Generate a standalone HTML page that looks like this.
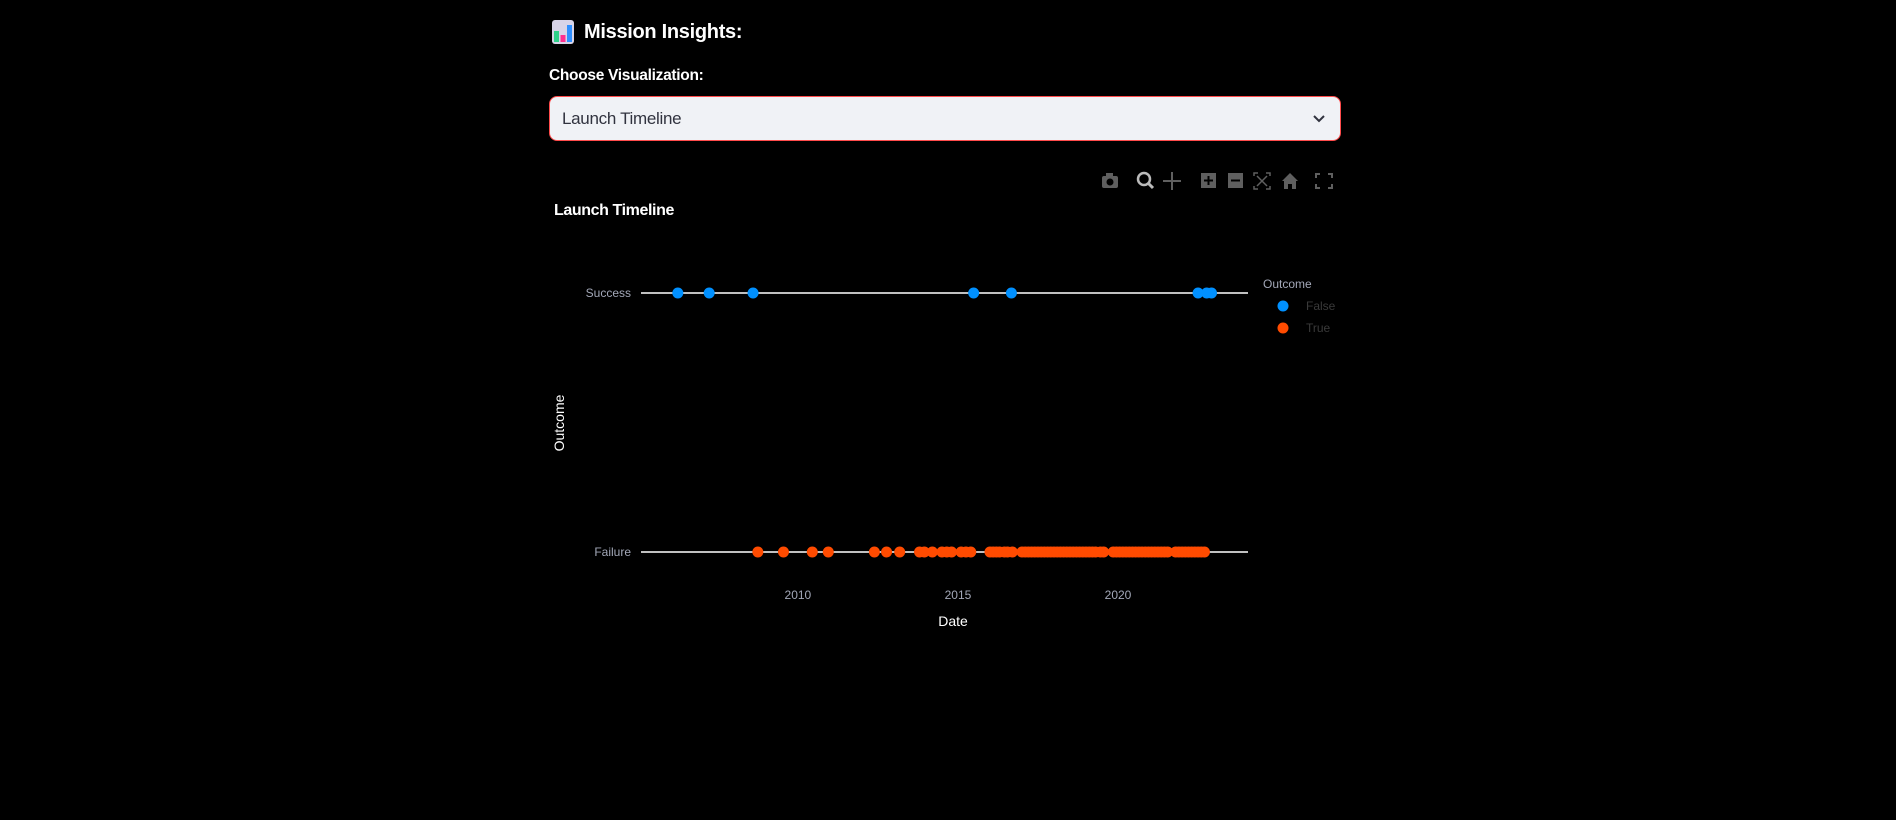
<!DOCTYPE html>
<html><head><meta charset="utf-8">
<style>
html,body{margin:0;padding:0;background:#000;width:1896px;height:820px;overflow:hidden;font-family:"Liberation Sans",sans-serif;}
.abs{position:absolute;}
</style></head>
<body>
<div class="abs" style="left:551px;top:17px;height:30px;display:flex;align-items:center;">
  <svg width="24" height="26" viewBox="0 0 24 26"><rect x="1" y="1" width="22" height="24" rx="3" fill="#d8d4e8"/><rect x="3" y="12" width="5" height="11" fill="#2fd18a"/><rect x="9.5" y="16" width="5" height="7" fill="#ff2f8f"/><rect x="16" y="6" width="5" height="17" fill="#2f8fff"/></svg>
  <span style="color:#fff;font-weight:bold;font-size:20px;margin-left:9px;letter-spacing:-0.3px;">Mission Insights:</span>
</div>
<div class="abs" style="left:549px;top:67px;color:#fff;font-weight:bold;font-size:15.5px;letter-spacing:-0.3px;">Choose Visualization:</div>
<div class="abs" style="left:549px;top:96px;width:792px;height:45px;background:#f0f2f6;border:1px solid #ff4b4b;border-radius:8px;box-sizing:border-box;">
  <span style="position:absolute;left:12px;top:12px;font-size:17px;color:#31333f;letter-spacing:-0.3px;">Launch Timeline</span>
  <svg class="abs" style="right:14px;top:15px" width="14" height="14" viewBox="0 0 14 14"><path d="M2 4 L7 9 L12 4" stroke="#31333f" stroke-width="2" fill="none"/></svg>
</div>
<div class="abs" style="left:1100px;top:170px;width:240px;height:22px;">
  <svg width="240" height="22" viewBox="0 0 240 22" fill="#5f5f5f">
    <g><rect x="2" y="6" width="16" height="12" rx="2"/><rect x="6" y="3" width="7" height="4"/><circle cx="10" cy="12" r="3.5" fill="#000"/></g>
    <g><circle cx="44" cy="9" r="6" fill="none" stroke="#bbb" stroke-width="2.5"/><line x1="48" y1="13" x2="53" y2="18" stroke="#bbb" stroke-width="3"/></g>
    <g stroke="#5f5f5f" stroke-width="2"><line x1="72" y1="2" x2="72" y2="20"/><line x1="63" y1="11" x2="81" y2="11"/></g>
    <g><rect x="101" y="3" width="15" height="15"/><path d="M104 10.5h9M108.5 6v9" stroke="#000" stroke-width="2"/></g>
    <g><rect x="128" y="3" width="15" height="15"/><path d="M131 10.5h9" stroke="#000" stroke-width="2"/></g>
    <g stroke="#5f5f5f" stroke-width="1.5" fill="none"><path d="M154 6v-3h4M166 3h4v3M170 16v3h-4M158 19h-4v-3M157 6l10 10M167 6l-10 10"/></g>
    <g><path d="M182 11l8-8 8 8h-2v8h-4v-5h-4v5h-4v-8z"/></g>
    <g stroke="#5f5f5f" stroke-width="2" fill="none"><path d="M216 8v-4h4M228 4h4v4M232 14v4h-4M220 18h-4v-4"/></g>
  </svg>
</div>
<svg id="chart" class="abs" style="left:0;top:0" width="1896" height="820"></svg>
<script>
const xTicks = [2010, 2015, 2020];
const yCategories = ["Success", "Failure"];
const successDates = [2006.25, 2007.23, 2008.6, 2015.49, 2016.67, 2022.5, 2022.77, 2022.92];
const failureDates = [2008.75, 2009.55, 2010.45, 2010.95, 2012.39, 2012.77, 2013.18, 2013.8, 2013.95, 2014.2, 2014.5, 2014.65, 2014.8, 2015.1, 2015.25, 2015.4,
 2016.0, 2016.1, 2016.2, 2016.3, 2016.45, 2016.55, 2016.7,
 2017.0, 2017.1, 2017.2, 2017.3, 2017.4, 2017.5, 2017.6, 2017.7, 2017.8, 2017.9, 2018.0, 2018.1, 2018.2, 2018.3, 2018.4, 2018.5, 2018.6, 2018.7, 2018.8, 2018.9, 2019.0, 2019.1, 2019.2, 2019.3, 2019.45, 2019.55,
 2019.85, 2019.95, 2020.05, 2020.15, 2020.25, 2020.35, 2020.45, 2020.55, 2020.65, 2020.75, 2020.85, 2020.95, 2021.05, 2021.15, 2021.25, 2021.35, 2021.45, 2021.55,
 2021.8, 2021.9, 2022.0, 2022.1, 2022.2, 2022.3, 2022.4, 2022.5, 2022.6, 2022.7];
const svg = document.getElementById('chart');
const NS = 'http://www.w3.org/2000/svg';
const x0 = 641, x1 = 1248, yr0 = 2005.1, yr1 = 2024.06;
const xs = v => x0 + (v - yr0) / (yr1 - yr0) * (x1 - x0);
const yPos = {"Success": 293, "Failure": 552};
const ys = c => yPos[c];
function mk(tag, attrs, text) {
  const e = document.createElementNS(NS, tag);
  for (const k in attrs) e.setAttribute(k, attrs[k]);
  if (text !== undefined) e.textContent = text;
  svg.appendChild(e);
  return e;
}
const FONT = '"Liberation Sans", sans-serif';
let t = mk('text', {x: 554, y: 215, fill: '#fff', 'font-size': 16, 'font-weight': 'bold', 'font-family': FONT, 'letter-spacing': '-0.4'}, 'Launch Timeline');


yCategories.forEach(c => {
  const l = mk('line', {x1: x0, x2: x1, y1: ys(c), y2: ys(c), stroke: '#fff', 'stroke-width': 1.5});
  
  
  const tl = mk('text', {x: 631, y: ys(c) + 4, fill: '#a3a8b8', 'font-size': 12, 'text-anchor': 'end', 'font-family': FONT}, c);
  
  
});
xTicks.forEach(v => {
  const tl = mk('text', {x: xs(v), y: 599, fill: '#a3a8b8', 'font-size': 12, 'text-anchor': 'middle', 'font-family': FONT}, String(v));
  
  
});
t = mk('text', {x: 953, y: 626, fill: '#fff', 'font-size': 14, 'text-anchor': 'middle', 'font-family': FONT}, 'Date');


t = mk('text', {x: 564, y: 423, fill: '#fff', 'font-size': 14, 'text-anchor': 'middle', 'font-family': FONT, transform: 'rotate(-90 564 423)'}, 'Outcome');


successDates.forEach(d => {
  const c = mk('circle', {cx: xs(d), cy: ys('Success'), r: 5.5, fill: '#0090ff'});
  
  
});
failureDates.forEach(d => {
  const c = mk('circle', {cx: xs(d), cy: ys('Failure'), r: 5.5, fill: '#ff4b00'});
  
  
});
t = mk('text', {x: 1263, y: 288, fill: '#a3a8b8', 'font-size': 12, 'font-family': FONT}, 'Outcome');


[['False', '#0090ff', 306], ['True', '#ff4b00', 328]].forEach(([n, col, y]) => {
  const c = mk('circle', {cx: 1283, cy: y, r: 5.5, fill: col});
  
  
  const tx = mk('text', {x: 1306, y: y + 4, fill: '#3a3a3a', 'font-size': 12, 'font-family': FONT}, n);
  
  
});
</script>
</body></html>
